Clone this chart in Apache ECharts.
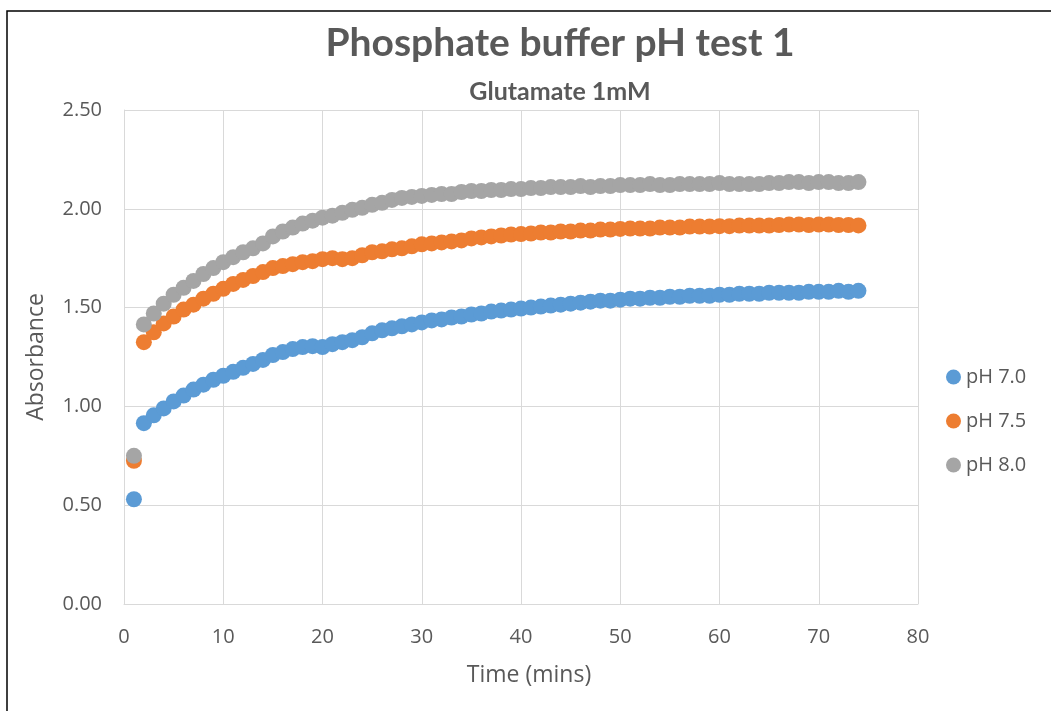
<!DOCTYPE html>
<html>
<head>
<meta charset="utf-8">
<script src="https://cdn.jsdelivr.net/npm/echarts@6/dist/echarts.min.js"></script>
<style>
  html, body { margin: 0; padding: 0; background: #ffffff; }
  #chart { width: 1051px; height: 711px; }
</style>
</head>
<body>
<div id="chart"></div>
<script>
// Time points (minutes)
const timeMins = [
  1, 2, 3, 4, 5, 6, 7, 8, 9, 10, 11, 12, 13, 14, 15, 16, 17, 18, 19, 20,
  21, 22, 23, 24, 25, 26, 27, 28, 29, 30, 31, 32, 33, 34, 35, 36, 37, 38, 39, 40,
  41, 42, 43, 44, 45, 46, 47, 48, 49, 50, 51, 52, 53, 54, 55, 56, 57, 58, 59, 60,
  61, 62, 63, 64, 65, 66, 67, 68, 69, 70, 71, 72, 73, 74
];

// Absorbance readings per buffer pH
const absPH70 = [
  0.53, 0.915, 0.955, 0.99, 1.025, 1.055, 1.085, 1.11, 1.135, 1.155,
  1.175, 1.195, 1.215, 1.235, 1.26, 1.275, 1.29, 1.30, 1.305, 1.30,
  1.315, 1.325, 1.335, 1.35, 1.37, 1.385, 1.395, 1.405, 1.415, 1.425,
  1.435, 1.44, 1.45, 1.455, 1.465, 1.47, 1.48, 1.485, 1.49, 1.495,
  1.50, 1.505, 1.51, 1.515, 1.52, 1.525, 1.53, 1.535, 1.535, 1.54,
  1.545, 1.545, 1.55, 1.55, 1.555, 1.555, 1.56, 1.56, 1.56, 1.565,
  1.565, 1.57, 1.57, 1.57, 1.575, 1.575, 1.575, 1.575, 1.58, 1.58,
  1.58, 1.585, 1.58, 1.585
];
const absPH75 = [
  0.725, 1.325, 1.375, 1.42, 1.455, 1.49, 1.515, 1.545, 1.57, 1.595,
  1.62, 1.64, 1.66, 1.68, 1.70, 1.71, 1.72, 1.73, 1.735, 1.745,
  1.75, 1.745, 1.75, 1.765, 1.78, 1.785, 1.795, 1.80, 1.81, 1.82,
  1.825, 1.83, 1.835, 1.84, 1.85, 1.855, 1.86, 1.865, 1.87, 1.872,
  1.875, 1.88, 1.88, 1.885, 1.885, 1.89, 1.89, 1.895, 1.895, 1.898,
  1.90, 1.90, 1.90, 1.905, 1.905, 1.905, 1.91, 1.91, 1.91, 1.912,
  1.912, 1.915, 1.915, 1.915, 1.915, 1.918, 1.92, 1.92, 1.918, 1.92,
  1.92, 1.918, 1.918, 1.916
];
const absPH80 = [
  0.75, 1.415, 1.47, 1.52, 1.565, 1.60, 1.635, 1.67, 1.70, 1.73,
  1.755, 1.78, 1.80, 1.825, 1.86, 1.885, 1.905, 1.925, 1.94, 1.955,
  1.965, 1.98, 1.995, 2.005, 2.02, 2.03, 2.045, 2.055, 2.06, 2.065,
  2.07, 2.075, 2.075, 2.085, 2.09, 2.09, 2.095, 2.095, 2.10, 2.10,
  2.105, 2.105, 2.11, 2.11, 2.11, 2.115, 2.11, 2.115, 2.115, 2.12,
  2.12, 2.12, 2.125, 2.12, 2.12, 2.125, 2.125, 2.125, 2.125, 2.13,
  2.125, 2.125, 2.125, 2.125, 2.13, 2.13, 2.135, 2.135, 2.13, 2.135,
  2.135, 2.13, 2.13, 2.135
];

const seriesNames = ['pH 7.0', 'pH 7.5', 'pH 8.0'];
const seriesValues = [absPH70, absPH75, absPH80];
const seriesColors = ['#5B9BD5', '#ED7D31', '#A5A5A5'];

const textColor = '#595959';
const gridColor = '#d9d9d9';
const titleFont = 'Lato, "Open Sans", sans-serif';
const axisFont = '"Open Sans", "Noto Sans", sans-serif';

const chart = echarts.init(document.getElementById('chart'), null, { renderer: 'canvas' });

const series = seriesNames.map((name, i) => ({
  name: name,
  type: 'scatter',
  symbol: 'circle',
  symbolSize: 16,
  itemStyle: { color: seriesColors[i], opacity: 1 },
  data: timeMins.map((t, k) => [t, seriesValues[i][k]])
}));

chart.setOption({
  backgroundColor: '#ffffff',
  animation: false,
  title: [
    {
      text: 'Phosphate buffer pH test 1',
      left: 555,
      top: 19,
      textAlign: 'center',
      textStyle: { fontFamily: titleFont, fontWeight: 'bold', fontSize: 39, color: textColor }
    },
    {
      text: 'Glutamate 1mM',
      left: 555,
      top: 74,
      textAlign: 'center',
      textStyle: { fontFamily: titleFont, fontWeight: 'bold', fontSize: 25, color: textColor }
    }
  ],
  legend: {
    orient: 'vertical',
    left: 941,
    top: 359,
    itemGap: 18,
    itemWidth: 15,
    itemHeight: 15,
    icon: 'circle',
    data: seriesNames,
    textStyle: { fontFamily: axisFont, fontSize: 20, color: textColor, lineHeight: 26 }
  },
  grid: { left: 124, right: 133, top: 110, bottom: 107, containLabel: false },
  xAxis: {
    type: 'value',
    min: 0,
    max: 80,
    interval: 10,
    name: 'Time (mins)',
    nameLocation: 'middle',
    nameGap: 60,
    nameTextStyle: { fontFamily: axisFont, fontSize: 23, color: textColor, padding: [0, 0, 0, 16] },
    axisLine: { show: true, lineStyle: { color: gridColor, width: 1 } },
    axisTick: { show: false },
    axisLabel: { margin: 23, fontFamily: axisFont, fontSize: 20, color: textColor },
    splitLine: { show: true, lineStyle: { color: gridColor, width: 1 } }
  },
  yAxis: {
    type: 'value',
    min: 0,
    max: 2.5,
    interval: 0.5,
    name: 'Absorbance',
    nameLocation: 'middle',
    nameGap: 76,
    nameRotate: 90,
    nameTextStyle: { fontFamily: axisFont, fontSize: 23, color: textColor },
    axisLine: { show: true, lineStyle: { color: gridColor, width: 1 } },
    axisTick: { show: false },
    axisLabel: {
      margin: 22,
      fontFamily: axisFont,
      fontSize: 20,
      color: textColor,
      formatter: v => v.toFixed(2)
    },
    splitLine: { show: true, lineStyle: { color: gridColor, width: 1 } }
  },
  graphic: [
    {
      type: 'rect',
      shape: { x: 7, y: 11, width: 1100, height: 800 },
      style: { fill: 'none', stroke: '#000000', lineWidth: 1.5 },
      silent: true
    }
  ],
  series: series
});
</script>
</body>
</html>
